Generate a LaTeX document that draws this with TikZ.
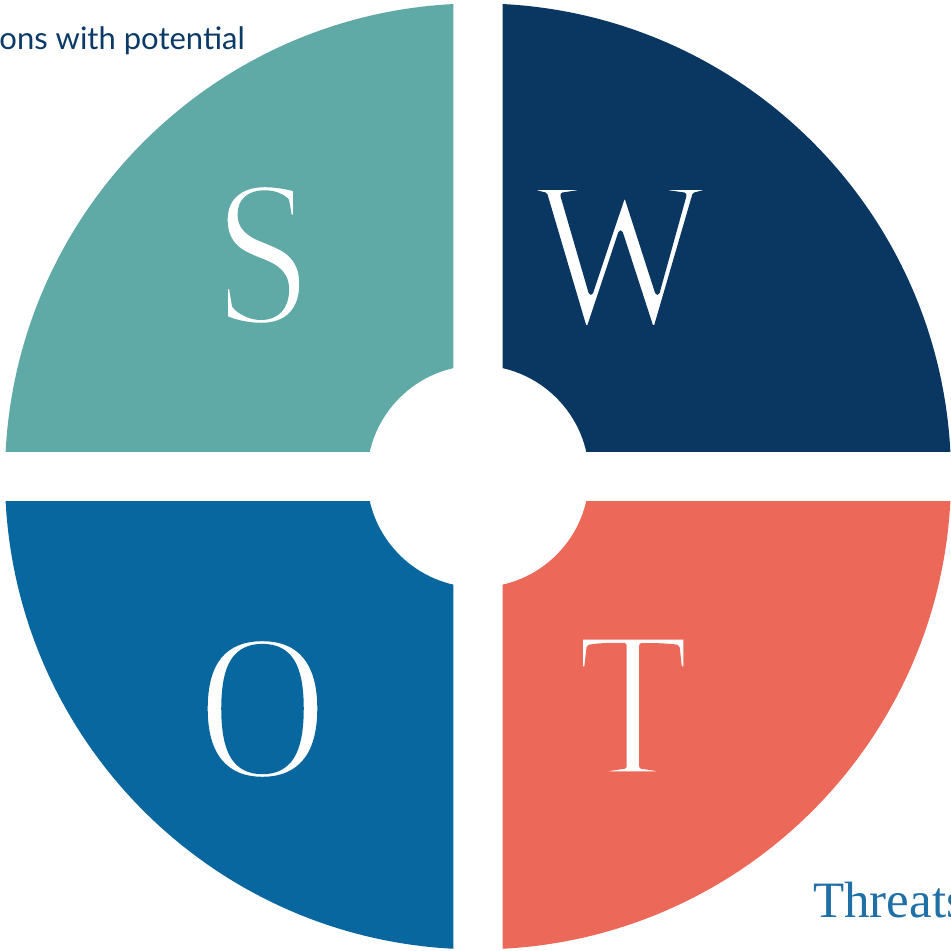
\documentclass[tikz,border=0pt]{standalone}
\usepackage{fontspec}
\setmainfont{Liberation Serif}
\newfontfamily\labelsans{Lato}
\definecolor{scol}{HTML}{5FA9A7}
\definecolor{wcol}{HTML}{0A3761}
\definecolor{ocol}{HTML}{09679F}
\definecolor{tcol}{HTML}{EC6959}
\definecolor{navytext}{HTML}{0B3A66}
\definecolor{bluetext}{HTML}{1F70A6}
\newcommand{\thinout}[1]{\special{pdf:literal 5.5 w 1 j 1 Tr}#1\special{pdf:literal 0 Tr 1 w 0 j}}
\tikzset{
  bigletter/.style={text=white, inner sep=0pt, font=\fontsize{210}{210}\selectfont},
  letterthin/.style={inner sep=0pt, font=\fontsize{210}{210}\selectfont},
  sanslabel/.style={text=navytext, inner sep=0pt, font=\labelsans\fontsize{31}{36}\selectfont},
  seriflabel/.style={text=bluetext, inner sep=0pt, font=\fontsize{51}{60}\selectfont}
}
\newcommand{\Rout}{473}
\newcommand{\Rin}{111}
\newcommand{\gapw}{24.7}
\begin{document}
\begin{tikzpicture}[x=1pt,y=1pt]
\useasboundingbox (0,0) rectangle (951,951);
\clip (0,0) rectangle (951,951);
\coordinate (c) at (478,474.6);
% quadrant S (top left)
\begin{scope}
\clip (c) ++(-\gapw,\gapw) rectangle ++(-500,500);
\fill[scol, even odd rule] (c) circle (\Rout) (c) circle (\Rin);
\end{scope}
% quadrant W (top right)
\begin{scope}
\clip (c) ++(\gapw,\gapw) rectangle ++(500,500);
\fill[wcol, even odd rule] (c) circle (\Rout) (c) circle (\Rin);
\end{scope}
% quadrant O (bottom left)
\begin{scope}
\clip (c) ++(-\gapw,-\gapw) rectangle ++(-500,-500);
\fill[ocol, even odd rule] (c) circle (\Rout) (c) circle (\Rin);
\end{scope}
% quadrant T (bottom right)
\begin{scope}
\clip (c) ++(\gapw,-\gapw) rectangle ++(500,-500);
\fill[tcol, even odd rule] (c) circle (\Rout) (c) circle (\Rin);
\end{scope}
\node[bigletter] (s) at (263,696) {\scalebox{0.85}[1]{S}};
\node[letterthin, text=scol] at (s.center) {\scalebox{0.85}[1]{\thinout{S}}};
\node[bigletter] (w) at (620,693.5) {\scalebox{0.86}[1]{W}};
\node[letterthin, text=wcol] at (w.center) {\scalebox{0.86}[1]{\thinout{W}}};
\node[bigletter] (o) at (262.5,242) {\scalebox{0.85}[1]{O}};
\node[letterthin, text=ocol] at (o.center) {\scalebox{0.85}[1]{\thinout{O}}};
\node[bigletter] (t) at (633,245.5) {\scalebox{0.87}[1]{T}};
\node[letterthin, text=tcol] at (t.center) {\scalebox{0.87}[1]{\thinout{T}}};
\node[sanslabel, anchor=base east] (top) at (245,901.7) {ons with potential};
\node[seriflabel, anchor=base west] (thr) at (813,33) {Threats};
\end{tikzpicture}
\end{document}
